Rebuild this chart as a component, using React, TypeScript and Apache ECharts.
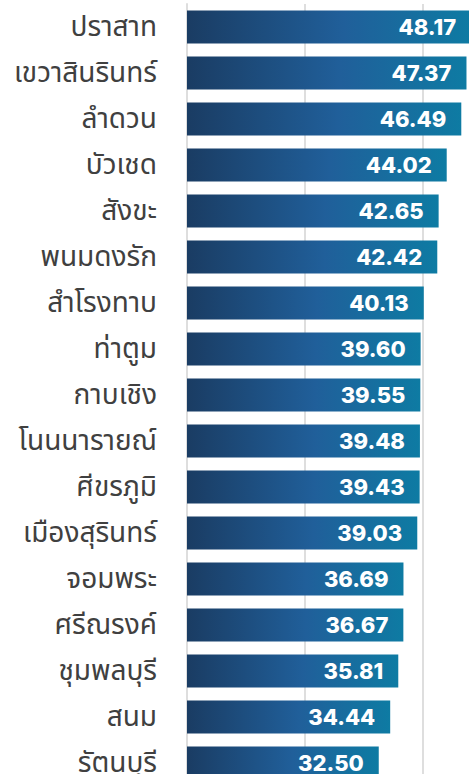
import React, { useEffect, useRef } from "react";
import * as echarts from "echarts";

const categories = [
  "ปราสาท",
  "เขวาสินรินทร์",
  "ลำดวน",
  "บัวเชด",
  "สังขะ",
  "พนมดงรัก",
  "สำโรงทาบ",
  "ท่าตูม",
  "กาบเชิง",
  "โนนนารายณ์",
  "ศีขรภูมิ",
  "เมืองสุรินทร์",
  "จอมพระ",
  "ศรีณรงค์",
  "ชุมพลบุรี",
  "สนม",
  "รัตนบุรี",
];

const values = [
  48.17, 47.37, 46.49, 44.02, 42.65, 42.42, 40.13, 39.6, 39.55, 39.48, 39.43,
  39.03, 36.69, 36.67, 35.81, 34.44, 32.5,
];

const xTicks = [0, 20, 40, 60];

export default function App() {
  const ref = useRef<HTMLDivElement>(null);

  useEffect(() => {
    if (!ref.current) return;
    const chart = echarts.init(ref.current, undefined, { renderer: "svg" });
    chart.setOption({
      animation: false,
      grid: { left: 187, right: 0, top: 4, height: 782, containLabel: false },
      xAxis: {
        type: "value",
        min: xTicks[0],
        max: xTicks[xTicks.length - 1],
        interval: 20,
        axisLabel: { show: false },
        axisLine: { show: false },
        axisTick: { show: false },
        splitLine: { show: true, lineStyle: { color: "#dedede", width: 2 } },
      },
      yAxis: {
        type: "category",
        inverse: true,
        data: categories,
        axisLine: { show: true, lineStyle: { color: "#dedede", width: 2 } },
        axisTick: { show: false },
        axisLabel: {
          margin: 30,
          fontSize: 28,
          color: "#404040",
          fontFamily: "'Noto Sans Thai', 'Noto Sans', sans-serif",
        },
      },
      series: [
        {
          type: "bar",
          data: values,
          barWidth: 33,
          itemStyle: {
            color: new echarts.graphic.LinearGradient(0, 0, 1, 0, [
              { offset: 0, color: "#1a3c63" },
              { offset: 0.55, color: "#205f9a" },
              { offset: 1, color: "#0e7ba3" },
            ]),
          },
          label: {
            show: true,
            position: "insideRight",
            distance: 15,
            color: "#ffffff",
            fontSize: 22,
            fontWeight: 800,
            fontFamily: "Inter, 'Open Sans', sans-serif",
            formatter: (p: any) => Number(p.value).toFixed(2),
          },
        },
      ],
    });
    return () => chart.dispose();
  }, []);

  return (
    <div
      style={{
        position: "fixed",
        left: 0,
        top: 0,
        width: 469,
        height: 774,
        overflow: "hidden",
        background: "#ffffff",
      }}
    >
      <div ref={ref} style={{ width: 541, height: 800 }} />
    </div>
  );
}
